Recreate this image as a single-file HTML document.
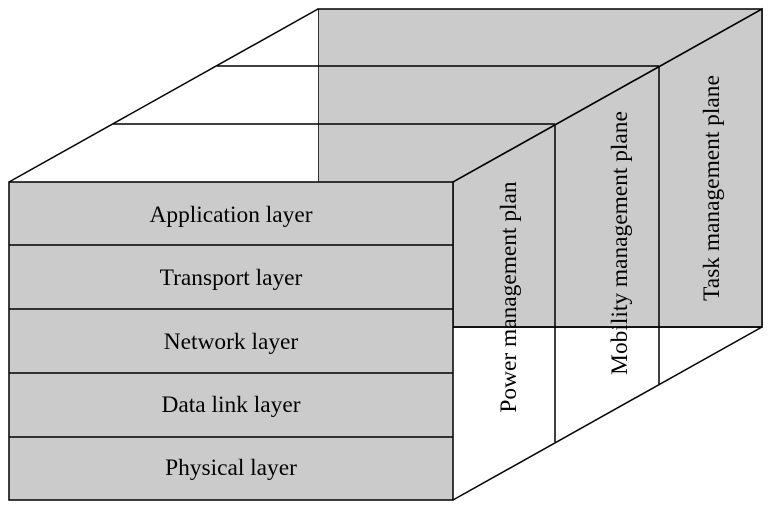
<!DOCTYPE html>
<html><head><style>body{margin:0;background:#fff}</style></head><body>
<svg width="768" height="517" viewBox="0 0 768 517" xmlns="http://www.w3.org/2000/svg" font-family="Liberation Serif, serif" font-size="23.4" fill="#000">
<g stroke="#000" stroke-width="1.5">
<rect x="318" y="9" width="444" height="318" fill="#cbcbcb"/>
<polygon points="453,182 762,9 762,327 453,327" fill="#cbcbcb"/>
<polygon points="9,182 318,9 318,182" fill="#fff" stroke="none"/>
<line x1="9" y1="182" x2="318" y2="9"/>
<line x1="217" y1="66" x2="659" y2="66"/>
<line x1="113" y1="124" x2="555" y2="124"/>
<line x1="453" y1="182" x2="762" y2="9"/>
<line x1="453" y1="500" x2="762" y2="327"/>
<line x1="453" y1="327" x2="762" y2="327"/>
<line x1="555" y1="124" x2="555" y2="442"/>
<line x1="659" y1="66" x2="659" y2="384"/>
<rect x="9" y="182" width="444" height="318" fill="#cbcbcb"/>
<line x1="9" y1="245" x2="453" y2="245"/>
<line x1="9" y1="309" x2="453" y2="309"/>
<line x1="9" y1="373" x2="453" y2="373"/>
<line x1="9" y1="437" x2="453" y2="437"/>
</g>
<g text-anchor="middle">
<text x="231" y="222">Application layer</text>
<text x="231" y="285">Transport layer</text>
<text x="231" y="349">Network layer</text>
<text x="231" y="412">Data link layer</text>
<text x="231" y="475">Physical layer</text>
<text transform="translate(516,297) rotate(-90)">Power management plan</text>
<text transform="translate(627,243) rotate(-90)">Mobility management plane</text>
<text transform="translate(719,188) rotate(-90)">Task management plane</text>
</g>
</svg>
</body></html>
